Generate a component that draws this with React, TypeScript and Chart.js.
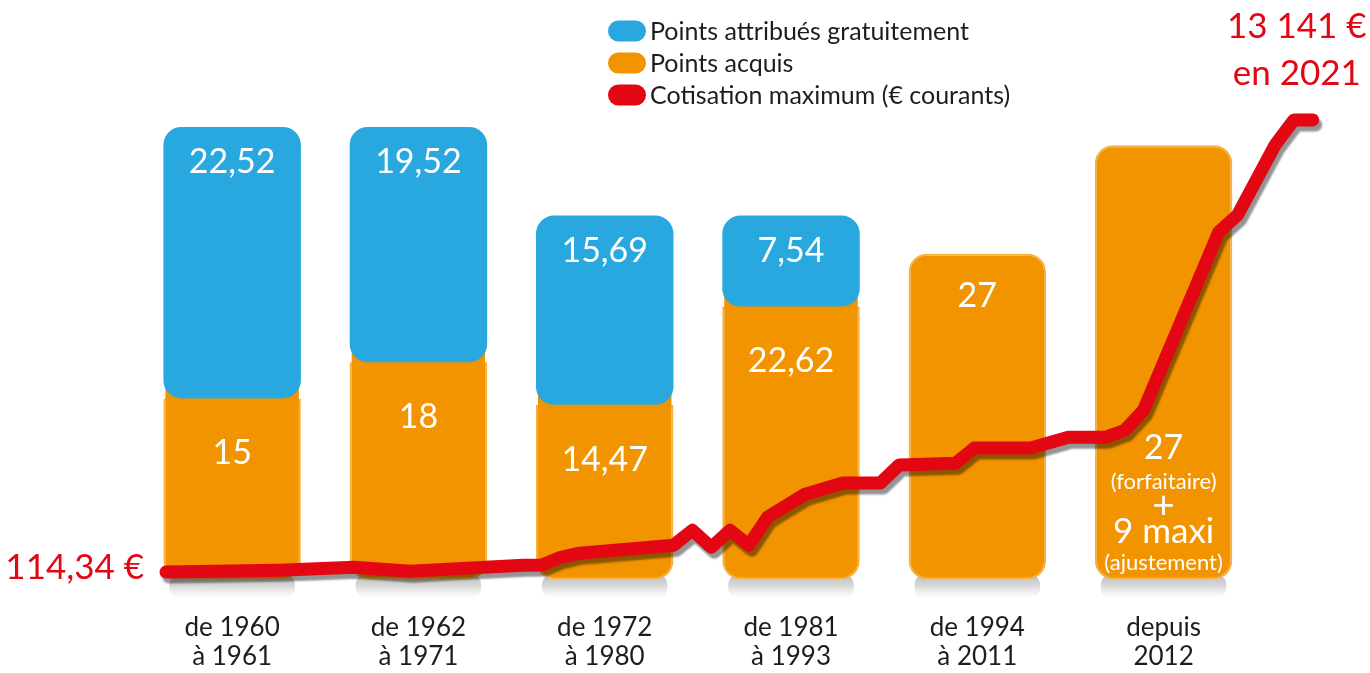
import React, { useEffect, useRef } from "react";
import { Chart, registerables } from "chart.js";

Chart.register(...registerables);

// ---------- data ----------
const categories: string[][] = [
  ["de 1960", "à 1961"],
  ["de 1962", "à 1971"],
  ["de 1972", "à 1980"],
  ["de 1981", "à 1993"],
  ["de 1994", "à 2011"],
  ["depuis", "2012"],
];
const pointsAcquis = [15, 18, 14.47, 22.62, 27, 36];
const pointsGratuits = [22.52, 19.52, 15.69, 7.54, 0, 0];
const barNotes: (string[] | null)[] = [
  null,
  null,
  null,
  null,
  null,
  ["27", "(forfaitaire)", "+", "9 maxi", "(ajustement)"],
];

const years = [
  1960, 1966, 1970, 1973, 1975, 1979, 1980, 1981, 1982, 1987, 1988, 1989, 1990,
  1991, 1992, 1994, 1996, 1998, 1999, 2002, 2003, 2006, 2008, 2010, 2011, 2012,
  2016, 2017, 2019, 2020, 2021,
];
const cotisation = [
  114.34, 170, 255, 140, 200, 310, 320, 540, 660, 890, 1320, 830, 1320, 890,
  1700, 2360, 2680, 2680, 3200, 3250, 3690, 3690, 4000, 4000, 4200, 4780, 9910,
  10400, 12420, 13141, 13141,
];
const firstLabel = "114,34 €";
const lastLabel = ["13 141 €", "en 2021"];

const labelAcquis = "Points acquis";
const labelGratuits = "Points attribués gratuitement";
const labelCotisation = "Cotisation maximum (€ courants)";

// ---------- styles ----------
const BLUE = "#29a8e0";
const ORANGE = "#f29400";
const ORANGE_RIM = "#f7b040";
const RED = "#e30613";
const TEXT = "#1d1d1b";
const RADIUS = 18;
const FONT = "Lato";

const fmt = (v: number) => String(v).replace(".", ",");

const drawBarShadows = (chart: any) => {
  const ctx = chart.ctx;
  const meta = chart.getDatasetMeta(0);
  ctx.save();
  meta.data.forEach((el: any) => {
    const props = el.getProps(["x", "base", "width"], true);
    const left = props.x - props.width / 2 + 6;
    const w = props.width - 12;
    const top = props.base - 6;
    const g = ctx.createLinearGradient(0, top, 0, top + 26);
    g.addColorStop(0, "rgba(120,120,120,0.55)");
    g.addColorStop(0.5, "rgba(150,150,150,0.35)");
    g.addColorStop(1, "rgba(200,200,200,0)");
    ctx.fillStyle = g;
    ctx.beginPath();
    (ctx as any).roundRect(left, top, w, 26, 12);
    ctx.fill();
  });
  ctx.restore();
};

const decorPlugin = {
  id: "decor",
  beforeDatasetDraw(chart: any, args: any) {
    const ctx = chart.ctx;
    if (args.index === 0) drawBarShadows(chart);
    if (args.index === 2) {
      ctx.save();
      ctx.shadowColor = "rgba(0,0,0,0.42)";
      ctx.shadowBlur = 2;
      ctx.shadowOffsetX = 3;
      ctx.shadowOffsetY = 5;
    }
  },
  afterDatasetDraw(chart: any, args: any) {
    const ctx = chart.ctx;
    if (args.index === 0) {
      // orange continues behind the rounded bottom of the blue segment
      const meta = chart.getDatasetMeta(0);
      ctx.save();
      ctx.fillStyle = ORANGE;
      meta.data.forEach((el: any, i: number) => {
        if (pointsGratuits[i] > 0) {
          ctx.fillRect(el.x - el.width / 2 + 2, el.y - RADIUS, el.width - 4, RADIUS + 3);
        }
      });
      ctx.restore();
    }
    if (args.index === 2) ctx.restore();
  },
  afterDatasetsDraw(chart: any) {
    const ctx = chart.ctx;
    ctx.save();
    ctx.textAlign = "center";
    ctx.textBaseline = "middle";
    ctx.fillStyle = "#ffffff";
    // value labels
    const mOr = chart.getDatasetMeta(0);
    const mBl = chart.getDatasetMeta(1);
    mOr.data.forEach((el: any, i: number) => {
      const note = barNotes[i];
      if (note) {
        const sizes = [34, 22, 38, 35, 22];
        const offs = [-131, -97, -73, -47, -16];
        note.forEach((t, k) => {
          ctx.font = `${sizes[k]}px ${FONT}`;
          ctx.fillText(t, el.x, el.base + offs[k]);
        });
      } else {
        ctx.font = `34px ${FONT}`;
        const off = pointsGratuits[i] > 0 ? 55 : 42;
        ctx.fillText(fmt(pointsAcquis[i]), el.x, el.y + off);
      }
    });
    mBl.data.forEach((el: any, i: number) => {
      if (pointsGratuits[i] > 0) {
        ctx.font = `34px ${FONT}`;
        ctx.fillText(fmt(pointsGratuits[i]), el.x, el.y + 35);
      }
    });
    // red line end labels
    const mLine = chart.getDatasetMeta(2);
    const p0 = mLine.data[0];
    const pN = mLine.data[mLine.data.length - 1];
    ctx.fillStyle = RED;
    ctx.font = `35px ${FONT}`;
    ctx.textAlign = "right";
    ctx.fillText(firstLabel, p0.x - 22, p0.y - 4);
    ctx.textAlign = "center";
    ctx.fillText(lastLabel[0], pN.x - 16, pN.y - 93);
    ctx.fillText(lastLabel[1], pN.x - 16, pN.y - 46);

    // legend
    const order = [1, 0, 2];
    const rowsY = [31, 63, 95];
    const pillX = 608;
    ctx.textAlign = "left";
    ctx.font = `25px ${FONT}`;
    order.forEach((di, r) => {
      const ds = chart.data.datasets[di];
      const color = di === 2 ? ds.borderColor : ds.backgroundColor;
      ctx.fillStyle = color;
      ctx.beginPath();
      (ctx as any).roundRect(pillX, rowsY[r] - 10.5, 38, 21, 10.5);
      ctx.fill();
      ctx.fillStyle = TEXT;
      ctx.fillText(ds.label, pillX + 42, rowsY[r] + 1);
    });
    ctx.restore();
  },
};

export default function App() {
  const ref = useRef<HTMLCanvasElement | null>(null);

  useEffect(() => {
    if (!ref.current) return;
    Chart.defaults.font.family = FONT;
    const chart = new Chart(ref.current, {
      type: "bar",
      data: {
        datasets: [
          {
            label: labelAcquis,
            data: pointsAcquis.map((v, i) => ({ x: i, y: v })),
            backgroundColor: ORANGE,
            borderColor: ORANGE_RIM,
            borderWidth: 2,
            borderSkipped: false,
            borderRadius: (c: any) =>
              pointsGratuits[c.dataIndex] > 0
                ? { topLeft: 0, topRight: 0, bottomLeft: RADIUS, bottomRight: RADIUS }
                : RADIUS,
            barPercentage: 0.9,
            categoryPercentage: 0.82,
            grouped: false,
            order: 2,
            xAxisID: "x",
            yAxisID: "y",
          } as any,
          {
            label: labelGratuits,
            data: pointsGratuits.map((v, i) => ({
              x: i,
              y: v > 0 ? [pointsAcquis[i], pointsAcquis[i] + v] : null,
            })),
            backgroundColor: BLUE,
            borderWidth: 0,
            borderSkipped: false,
            borderRadius: RADIUS,
            barPercentage: 0.9,
            categoryPercentage: 0.82,
            grouped: false,
            order: 1,
            xAxisID: "x",
            yAxisID: "y",
          } as any,
          {
            type: "line",
            label: labelCotisation,
            data: years.map((y, i) => ({ x: y, y: cotisation[i] })),
            borderColor: RED,
            backgroundColor: RED,
            borderWidth: 13,
            pointRadius: 0,
            tension: 0,
            borderJoinStyle: "round",
            borderCapStyle: "round",
            order: 0,
            xAxisID: "xLine",
            yAxisID: "yLine",
            clip: false,
          } as any,
        ],
      },
      options: {
        responsive: false,
        animation: false,
        layout: { padding: { top: 97, left: 139, right: 30, bottom: -32 } },
        plugins: {
          legend: { display: false },
          tooltip: { enabled: false },
        },
        scales: {
          x: {
            type: "linear",
            min: -0.5,
            max: 5.947,
            offset: false,
            grid: { display: false, drawTicks: false, offset: false },
            border: { display: false },
            afterBuildTicks: (axis: any) => {
              axis.ticks = categories.map((_, i) => ({ value: i }));
            },
            ticks: {
              autoSkip: false,
              maxRotation: 0,
              padding: 33,
              color: TEXT,
              font: { family: FONT, size: 26, lineHeight: 1.15 },
              callback: (v: any) => categories[v as number] ?? "",
            },
          },
          xLine: {
            type: "linear",
            display: false,
            offset: false,
            min: 1958.56,
            max: 2022.45,
          },
          y: {
            display: false,
            min: 0,
            max: 40,
          },
          yLine: {
            display: false,
            min: -90,
            max: 13800,
          },
        },
      } as any,
      plugins: [decorPlugin],
    });
    return () => chart.destroy();
  }, []);

  return (
    <div style={{ position: "absolute", left: 0, top: 0, width: 1370, height: 673, background: "#fff" }}>
      <canvas ref={ref} width={1370} height={673} style={{ display: "block" }} />
    </div>
  );
}
